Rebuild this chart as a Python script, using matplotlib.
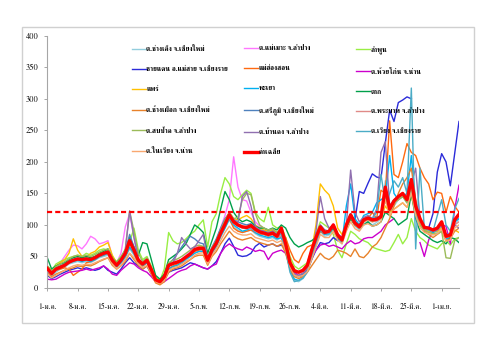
import numpy as np
import pandas as pd
import matplotlib
matplotlib.use("Agg")
import matplotlib.pyplot as plt
from matplotlib import font_manager
from matplotlib.ft2font import FT2Font
from matplotlib.patches import Rectangle

# PM10 daily values, 1 Jan - 5 Apr (leap year), 96 days
dates = pd.date_range("2012-01-01", periods=96, freq="D")
thai_months = {1: "ม.ค.", 2: "ก.พ.", 3: "มี.ค.", 4: "เม.ย."}
threshold = 120
nan = np.nan

changkoeng = [28,20,25,30,33,38,40,42,40,42, 40,44,48,50,52,40,32,38,48,62,
              52,40,34,40,26,10,8,15,30,34, 36,40,44,50,56,58,60,40,55,65,
              80,95,108,98,92,88,90,92,86,82, 80,78,80,76,80,60,30,12,10,15,
              25,45,68,90,82,84,92,78,70,92, 110,98,92,102,105,100,104,110,170,120,
              130,140,145,135,160,120,100,90,88,86, 88,98,76,78,100,110]
maemoh = [30,22,32,40,50,60,68,67,62,70, 82,78,70,72,75,50,40,55,97,118,
          80,48,40,46,30,14,10,20,38,45, 42,46,52,58,65,66,64,45,62,75,
          95,115,140,208,160,140,138,120,105,98, 95,90,92,88,92,70,42,30,26,30,
          38,58,80,100,92,90,102,86,80,100, 118,105,100,110,112,108,110,115,150,122,
          135,140,148,138,165,125,105,92,90,88, 92,100,80,82,105,112]
lamphun = [35,28,38,42,45,48,50,52,50,55, 52,55,60,62,60,48,42,50,60,72,
           95,60,45,50,35,18,12,30,88,75, 70,72,78,85,90,100,108,65,105,118,
           150,175,165,145,140,148,155,150,120,110, 105,128,100,95,98,80,50,35,30,35,
           40,62,85,105,100,95,85,60,48,70, 90,85,78,75,72,65,62,60,58,60,
           72,85,70,80,110,90,80,75,68,65, 62,70,75,68,78,80]
maesai = [20,15,18,22,25,28,30,32,30,32, 30,28,30,35,28,25,22,30,40,48,
          40,35,30,35,22,10,8,14,25,28, 30,32,36,40,38,35,32,30,35,42,
          55,70,79,66,52,50,51,55,66,71, 65,68,70,66,68,62,40,22,18,20,
          28,45,60,72,70,72,80,75,80,95, 115,108,153,150,166,181,176,174,230,282,
          264,294,298,303,300,nan,nan,nan,95,118, 184,213,200,162,213,264]
maehongson = [30,22,28,30,32,30,20,25,30,40, 42,45,50,52,55,40,35,42,50,65,
              55,40,35,40,25,10,6,12,30,35, 38,42,48,52,58,60,62,42,58,70,
              85,100,110,95,90,88,90,92,88,85, 85,82,85,80,82,80,60,45,40,55,
              65,68,72,90,85,88,95,82,78,95, 110,100,95,105,110,120,110,155,150,265,
              180,175,200,229,215,210,190,175,165,140, 152,150,120,145,130,120]
huaikon = [14,13,14,18,22,25,26,27,28,30, 28,30,32,35,30,22,20,28,34,40,
           38,32,28,25,18,10,8,10,15,20, 25,28,30,35,38,35,32,30,35,38,
           55,65,70,65,62,60,65,62,58,60, 58,45,55,58,60,55,40,25,20,22,
           30,50,60,68,70,66,68,65,62,70, 75,70,72,78,80,80,85,90,100,105,
           110,nan,nan,nan,nan,nan,72,50,76,92, 95,100,98,70,125,163]
phrae = [33,26,35,40,45,55,78,60,50,48, 55,58,65,68,72,52,40,45,55,70,
         62,45,40,45,30,12,8,15,35,40, 42,45,50,55,62,65,65,45,62,72,
         90,108,120,110,108,112,115,110,100,95, 92,90,92,88,90,75,45,30,25,28,
         35,60,100,165,155,148,130,95,85,100, 110,100,95,105,108,105,108,110,130,120,
         125,130,135,128,145,120,100,92,90,88, 90,95,80,82,92,88]
phayao = [27,20,28,32,35,40,42,44,42,44, 42,45,50,52,55,42,34,40,50,65,
          55,42,36,40,26,12,8,14,30,34, 36,40,46,50,55,58,58,40,56,66,
          82,95,110,100,95,90,92,95,88,84, 82,80,82,78,80,62,30,14,12,16,
          26,48,70,92,85,86,95,80,72,130, 165,110,100,115,118,120,135,140,145,210,
          150,140,145,150,210,135,110,95,92,88, 92,100,78,80,105,110]
tak = [48,30,35,38,40,45,48,50,48,50, 48,50,55,58,62,48,40,48,60,80,
       65,52,72,70,45,20,14,22,45,50, 55,62,70,85,100,95,88,55,75,95,
       125,153,140,120,110,105,108,105,98,95, 95,92,95,92,100,95,80,70,65,68,
       72,75,80,95,90,88,95,80,75,95, 110,100,95,100,105,98,100,105,120,115,
       110,100,105,110,150,110,90,85,80,75, 72,75,70,80,78,72]
changphueak = [25,18,22,25,28,30,32,35,34,36, 35,38,42,45,48,36,30,35,42,55,
               45,36,30,35,22,8,5,10,25,30, 32,35,40,45,50,52,52,36,50,58,
               70,80,90,82,78,76,78,80,75,72, 70,68,70,66,70,55,30,18,15,18,
               25,35,45,55,48,45,50,60,58,55, 50,62,50,48,55,65,70,80,95,110,
               130,150,165,175,190,140,105,90,85,80, 85,90,75,78,90,95]
sriphum = [30,24,32,35,38,42,45,47,46,47, 46,48,52,55,58,45,37,45,58,85,
           65,45,40,45,30,14,10,18,38,45, 55,65,75,82,78,72,70,48,65,78,
           95,110,118,108,105,102,100,102,96,92, 90,88,90,85,88,70,40,20,18,22,
           30,55,78,100,92,90,100,86,80,100, 118,105,100,110,112,110,112,115,150,130,
           140,145,150,142,165,130,110,98,96,92, 95,105,85,86,108,118]
phrabat = [26,21,28,32,35,40,43,45,44,45, 44,47,51,54,56,43,35,43,54,70,
           58,43,37,43,28,12,9,17,35,38, 40,43,48,53,60,62,62,43,58,70,
           85,100,112,102,98,95,94,96,90,87, 85,83,85,80,82,68,38,28,24,28,
           33,52,74,95,87,87,98,82,74,98, 113,100,95,105,108,105,106,110,150,122,
           135,140,146,138,160,125,105,94,92,90, 92,102,80,82,100,105]
sobpad = [35,27,34,38,42,46,50,52,50,52, 50,53,57,60,62,48,40,48,62,122,
          90,55,42,48,32,14,10,20,40,44, 46,50,55,60,66,68,66,48,64,75,
          92,108,120,110,112,140,150,148,118,100, 95,92,94,88,92,72,42,28,24,28,
          35,56,78,98,90,88,100,84,76,98, 115,102,96,106,110,106,108,112,145,122,
          135,140,145,135,160,120,100,92,88,86, 86,90,48,47,75,80]
bandong = [28,22,30,34,37,42,45,47,46,47, 46,49,53,56,58,45,37,45,60,122,
           80,46,39,45,30,13,10,18,36,40, 55,80,70,62,65,75,85,46,62,73,
           90,105,118,108,104,145,153,130,98,92, 90,86,90,84,88,70,38,22,20,24,
           32,55,90,145,110,95,100,85,78,100, 187,120,105,112,115,110,125,215,232,130,
           140,145,150,140,165,190,110,96,94,90, 92,100,82,84,100,95]
wiang = [28,22,30,34,37,42,45,47,46,47, 46,49,53,56,58,45,37,45,55,72,
         60,45,38,44,29,12,8,16,34,38, 40,44,49,54,60,62,62,43,58,70,
         86,100,114,104,100,96,95,98,92,88, 86,84,86,82,85,60,25,10,12,16,
         26,50,72,92,86,86,98,82,74,98, 115,102,97,108,112,110,120,180,135,150,
         170,160,175,150,317,62,190,95,92,90, 115,140,100,90,125,142]
naiwiang = [22,16,20,24,28,32,35,37,36,38, 37,40,43,46,48,38,30,36,45,55,
            48,38,32,36,24,10,7,12,28,32, 34,38,42,46,52,55,56,38,52,62,
            75,88,98,90,86,84,84,86,80,78, 76,74,76,72,75,60,35,20,18,20,
            26,45,65,85,80,80,90,76,70,90, 105,94,90,100,102,98,100,105,140,115,
            125,130,135,128,150,115,96,88,86,84, 86,94,74,76,95,100]
average = [31,23,30,33,36,41,44,46,45,46, 45,48,52,55,57,44,36,44,55,75,
           60,44,38,44,29,13,10,18,36,39, 41,44,49,54,61,63,63,44,60,71,
           87,101,116,105,100,97,96,99,93,89, 87,85,87,82,95,70,40,27,25,28,
           36,60,80,97,88,90,100,84,76,100, 116,103,97,108,111,108,109,113,160,125,
           138,145,150,140,172,130,110,96,95,92, 95,105,82,84,108,117]

series = [
    ("ต.ช่างเคิ่ง จ.เชียงใหม่", changkoeng, "#93CDDD"),
    ("ต.แม่เมาะ จ.ลำปาง", maemoh, "#FF77FF"),
    ("ลำพูน", lamphun, "#99EE44"),
    ("ชายแดน อ.แม่สาย จ.เชียงราย", maesai, "#2B2BD9"),
    ("แม่ฮ่องสอน", maehongson, "#FF6A10"),
    ("ต.ห้วยโก๋น จ.น่าน", huaikon, "#CC00CC"),
    ("แพร่", phrae, "#FFC000"),
    ("พะเยา", phayao, "#00B0F0"),
    ("ตาก", tak, "#00A04A"),
    ("ต.ช้างเผือก จ.เชียงใหม่", changphueak, "#E8822A"),
    ("ต.ศรีภูมิ จ.เชียงใหม่", sriphum, "#4F81BD"),
    ("ต.พระบาท จ.ลำปาง", phrabat, "#E08A88"),
    ("ต.สบป้าด จ.ลำปาง", sobpad, "#9BBB59"),
    ("ต.บ้านดง จ.ลำปาง", bandong, "#9070B0"),
    ("ต.เวียง จ.เชียงราย", wiang, "#4BACC6"),
    ("ต.ในเวียง จ.น่าน", naiwiang, "#F9A870"),
]


def thai_fonts():
    names = []
    for f in font_manager.fontManager.ttflist:
        try:
            if 0x0E01 in FT2Font(f.fname).get_charmap() and f.name not in names:
                names.append(f.name)
        except Exception:
            pass
    return names


found = thai_fonts()
serif = [n for n in found if "Serif" in n]
thai = (serif or found or ["DejaVu Sans"])[0]
families = [thai, "Liberation Serif", "DejaVu Sans"]

fig = plt.figure(figsize=(5, 3.6), dpi=100)
fig.patches.append(Rectangle((0.044, 0.103), 0.904, 0.822, transform=fig.transFigure,
                             fill=False, edgecolor="#D0D0D0", linewidth=1))
ax = fig.add_axes([0.0946, 0.2, 0.8234, 0.7008])

handles = []
for name, vals, color in series:
    h, = ax.plot(dates, np.array(vals, dtype=float), color=color, lw=1.0, label=name)
    handles.append(h)
ax.axhline(threshold, color="#FF0000", lw=1.6, linestyle=(0, (2.3, 1.4)), zorder=4)
havg, = ax.plot(dates, average, color="#FF0000", lw=2.4, label="ค่าเฉลี่ย", zorder=5)
handles.append(havg)

ax.set_ylim(0, 400)
ax.set_yticks(range(0, 401, 50))
ax.set_xlim(dates[0], dates[-1])
ticks = dates[::7]
ax.set_xticks(ticks)
ax.set_xticklabels([f"{d.day}-{thai_months[d.month]}" for d in ticks])
for s in ["top", "right"]:
    ax.spines[s].set_visible(False)
for s in ["left", "bottom"]:
    ax.spines[s].set_color("#A6A6A6")
    ax.spines[s].set_linewidth(0.8)
ax.tick_params(axis="y", length=2.5, width=0.7, color="#A6A6A6", pad=4, labelsize=6)
ax.tick_params(axis="x", length=2.5, width=0.7, color="#A6A6A6", pad=8, labelsize=5.5)
for lab in ax.get_xticklabels() + ax.get_yticklabels():
    lab.set_family(families)

# legend laid out as three columns, filled row by row
col_x = [0.205, 0.478, 0.75]
for c in range(3):
    leg = ax.legend(handles=handles[c::3], loc="upper left", bbox_to_anchor=(col_x[c], 0.962),
                    frameon=False, ncol=1, handlelength=2.0, handletextpad=0.1,
                    labelspacing=2.0, borderaxespad=0, borderpad=0,
                    prop={"family": families, "size": 5, "weight": "bold"})
    if c < 2:
        ax.add_artist(leg)

fig.savefig("out.png", dpi=100)
